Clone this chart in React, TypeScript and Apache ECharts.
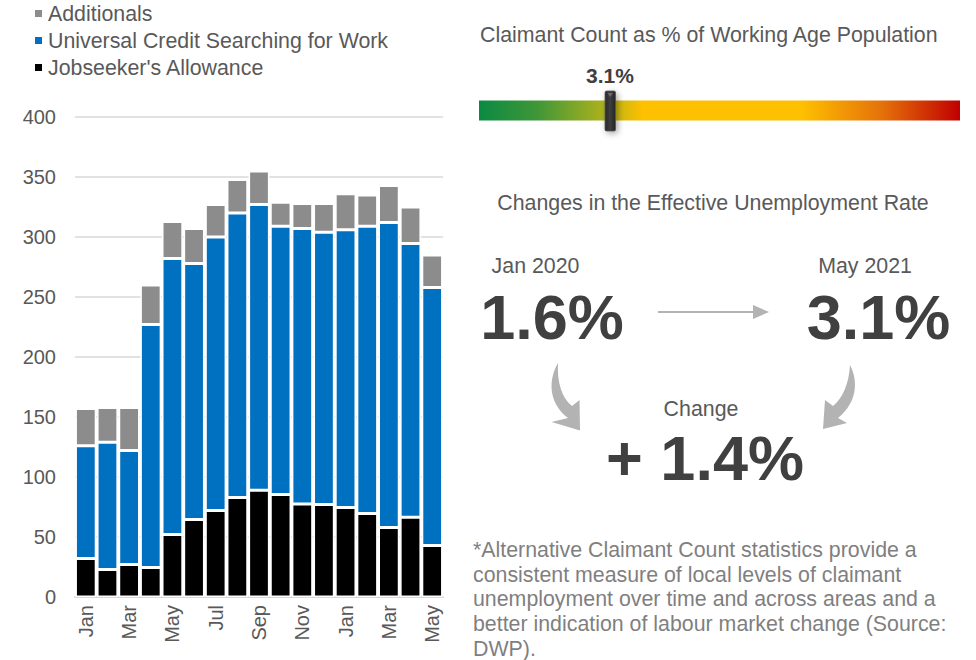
import React, { useEffect, useRef } from "react";
import * as echarts from "echarts";

const months = ["Jan", "Feb", "Mar", "Apr", "May", "Jun", "Jul", "Aug", "Sep", "Oct", "Nov", "Dec", "Jan", "Feb", "Mar", "Apr", "May"];
const jsa = [32, 23, 27, 24.5, 52, 64.5, 72, 83, 89, 85.5, 77.5, 77, 74.5, 69.5, 58, 66.5, 43];
const uc = [94, 106, 95, 202.5, 230, 213.5, 228, 237, 238, 223.5, 229.5, 227, 231.5, 239.5, 254, 228, 215];
const additionals = [31, 29, 36, 33, 31, 29, 27, 28, 28, 20, 21, 24, 30, 26, 31, 30.5, 27];
const seriesNames = ["Additionals", "Universal Credit Searching for Work", "Jobseeker's Allowance"];

const gaugeTitle = "Claimant Count as % of Working Age Population";
const gaugeValueLabel = "3.1%";
const changesTitle = "Changes in the Effective Unemployment Rate";
const startLabel = "Jan 2020";
const startValue = "1.6%";
const endLabel = "May 2021";
const endValue = "3.1%";
const changeLabel = "Change";
const changeValue = "+ 1.4%";
const footnoteLines = [
  "*Alternative Claimant Count statistics provide a",
  "consistent measure of local levels of claimant",
  "unemployment over time and across areas and a",
  "better indication of labour market change (Source:",
  "DWP).",
];

const FONT = "'Liberation Sans', Arial, Helvetica, sans-serif";
const TS = 21.35;

const leftArrowD =
  "M 558 363 C 549 378 547 402 568 418 L 551.5 422 L 580 430.5 L 579.5 400 L 572 406 C 562 398 557 383 558 363 Z";
const rightArrowD =
  "M 850 365 C 858 380 858 402 838 418 L 847 423 L 823 429 L 825 400 L 833 406 C 843 398 849 383 850 365 Z";

let registered = false;
function registerShapes() {
  if (registered) return;
  registered = true;
  echarts.graphic.registerShape("leftCurveArrow", echarts.graphic.extendPath(leftArrowD, {}) as any);
  echarts.graphic.registerShape("rightCurveArrow", echarts.graphic.extendPath(rightArrowD, {}) as any);
}

export default function App() {
  const ref = useRef<HTMLDivElement>(null);

  useEffect(() => {
    if (!ref.current) return;
    registerShapes();
    const chart = echarts.init(ref.current, null, { renderer: "svg" });

    const txt = (text: string, x: number, y: number, size: number, color: string, align = "left", weight = "normal") => ({
      type: "text",
      x,
      y,
      silent: true,
      style: {
        text,
        fill: color,
        fontSize: size,
        fontFamily: FONT,
        fontWeight: weight,
        textAlign: align,
        textVerticalAlign: "middle",
      },
    });

    const arrowColor = "#b3b3b3";

    const graphics: any[] = [
      txt(gaugeTitle, 480, 34.5, TS, "#595959"),
      txt(gaugeValueLabel, 610, 75, 21, "#404040", "center", "bold"),
      {
        type: "rect",
        silent: true,
        shape: { x: 479, y: 100.5, width: 481, height: 20 },
        style: {
          fill: new echarts.graphic.LinearGradient(0, 0, 1, 0, [
            { offset: 0, color: "#0a8a43" },
            { offset: 0.12, color: "#3f9638" },
            { offset: 0.26, color: "#adb21c" },
            { offset: 0.34, color: "#ffc000" },
            { offset: 0.67, color: "#ffc000" },
            { offset: 0.84, color: "#e4700a" },
            { offset: 1, color: "#c00000" },
          ]),
        },
      },
      {
        type: "rect",
        silent: true,
        shape: { x: 605, y: 91, width: 10.5, height: 40, r: 1.5 },
        style: {
          fill: new echarts.graphic.LinearGradient(0, 0, 1, 0, [
            { offset: 0, color: "#2a2a2a" },
            { offset: 0.5, color: "#3d3d3d" },
            { offset: 1, color: "#262626" },
          ]),
          stroke: "#555555",
          lineWidth: 0.8,
          shadowBlur: 6,
          shadowColor: "rgba(0,0,0,0.35)",
          shadowOffsetX: 2,
          shadowOffsetY: 2,
        },
      },
      {
        type: "polygon",
        silent: true,
        shape: { points: [[607.5, 93], [613, 93], [610.2, 97]] },
        style: { fill: "#6a6a6a" },
      },
      txt(changesTitle, 713, 202.5, TS, "#595959", "center"),
      txt(startLabel, 535.5, 265.5, TS, "#595959", "center"),
      txt(endLabel, 865, 265.5, TS, "#595959", "center"),
      txt(startValue, 552, 316.5, 63, "#404040", "center", "bold"),
      txt(endValue, 878.5, 316.5, 63, "#404040", "center", "bold"),
      {
        type: "line",
        silent: true,
        shape: { x1: 658, y1: 312, x2: 755, y2: 312 },
        style: { stroke: arrowColor, lineWidth: 2 },
      },
      {
        type: "polygon",
        silent: true,
        shape: { points: [[753, 305], [769, 312], [753, 319]] },
        style: { fill: arrowColor },
      },
      { type: "leftCurveArrow", x: 0, y: 0, silent: true, style: { fill: arrowColor } },
      { type: "rightCurveArrow", x: 0, y: 0, silent: true, style: { fill: arrowColor } },
      txt(changeLabel, 701, 408.5, TS, "#595959", "center"),
      txt(changeValue, 705, 458, 63, "#404040", "center", "bold"),
      ...footnoteLines.map((line, i) => txt(line, 473, 550 + i * 24.7, TS, "#7f7f7f")),
    ];

    const barCommon = {
      type: "bar",
      stack: "total",
      barCategoryGap: "4%",
      itemStyle: { borderColor: "#ffffff", borderWidth: 1.5 },
      emphasis: { disabled: true },
    };

    chart.setOption({
      animation: false,
      textStyle: { fontFamily: FONT },
      legend: {
        data: seriesNames,
        orient: "vertical",
        left: 33,
        top: 3,
        padding: 0,
        icon: "rect",
        itemWidth: 9,
        itemHeight: 9,
        itemGap: 6,
        selectedMode: false,
        textStyle: { fontSize: TS, color: "#595959", fontFamily: FONT },
      },
      grid: { left: 75, right: 533, top: 117, bottom: 63 },
      xAxis: {
        type: "category",
        data: months,
        axisLine: { lineStyle: { color: "#d9d9d9", width: 2 } },
        axisTick: { show: false },
        axisLabel: {
          interval: 1,
          rotate: 90,
          margin: 8,
          fontSize: 20,
          color: "#595959",
          fontFamily: FONT,
        },
      },
      yAxis: {
        type: "value",
        min: 0,
        max: 400,
        interval: 50,
        axisLine: { show: false },
        axisTick: { show: false },
        splitLine: { lineStyle: { color: "#d9d9d9", width: 1.5 } },
        axisLabel: { fontSize: 20, color: "#595959", margin: 19, fontFamily: FONT },
      },
      series: [
        { ...barCommon, name: seriesNames[2], data: jsa, itemStyle: { ...barCommon.itemStyle, color: "#000000" } },
        { ...barCommon, name: seriesNames[1], data: uc, itemStyle: { ...barCommon.itemStyle, color: "#0070c0" } },
        { ...barCommon, name: seriesNames[0], data: additionals, itemStyle: { ...barCommon.itemStyle, color: "#8c8c8c" } },
      ],
      graphic: graphics,
    });

    return () => chart.dispose();
  }, []);

  return <div ref={ref} style={{ position: "absolute", left: 0, top: 0, width: 976, height: 660 }} />;
}
